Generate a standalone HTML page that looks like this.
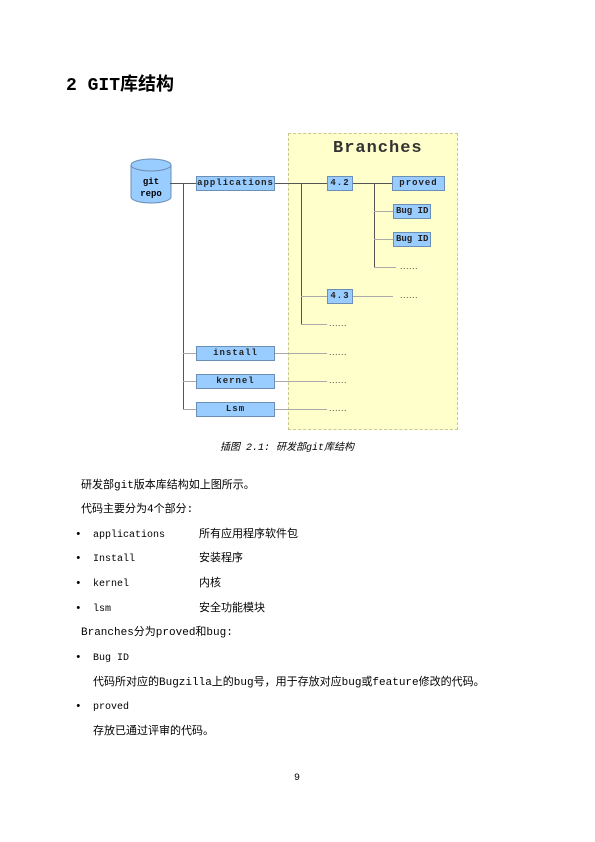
<!DOCTYPE html>
<html><head><meta charset="utf-8"><style>
body{margin:0;width:595px;height:842px;background:#fff;position:relative;overflow:hidden;font-family:"Liberation Mono","Noto Sans CJK SC",monospace;color:#000}
.t{position:absolute;white-space:nowrap;font-size:11px;line-height:13px}
.b{position:absolute;background:#99ccff;border:1px solid #6b8fb5;box-sizing:border-box;font-size:9px;line-height:12px;text-align:center;font-family:"Liberation Mono",monospace;letter-spacing:1px;color:#222;font-weight:bold}
.l{position:absolute;background:#555}
.g{position:absolute;background:#aaa}
.d{position:absolute;font-family:"Liberation Sans",sans-serif;font-size:9px;line-height:10px;color:#444;letter-spacing:0.5px}
</style></head><body>
<div class="t" style="left:66px;top:75px;font-size:18px;line-height:22px;font-weight:bold">2 GIT库结构</div>

<div style="position:absolute;left:288px;top:133px;width:170px;height:297px;background:#ffffcc;border:1px dashed #c8c890;box-sizing:border-box"></div>
<div class="t" style="left:333px;top:139px;font-size:17px;line-height:20px;letter-spacing:1px;color:#333;font-weight:bold">Branches</div>

<svg style="position:absolute;left:130px;top:158px" width="42" height="46"><path d="M1 7 V39 A20 6 0 0 0 41 39 V7" fill="#99ccff" stroke="#6b8fb5"/><ellipse cx="21" cy="7" rx="20" ry="6" fill="#99ccff" stroke="#6b8fb5"/></svg>
<div class="t" style="left:131px;top:176px;width:40px;text-align:center;font-size:9px;line-height:12px;font-weight:bold">git<br>repo</div>

<div class="l" style="left:170px;top:183px;width:26px;height:1px"></div>
<div class="l" style="left:183px;top:183px;width:1px;height:226px"></div>
<div class="g" style="left:183px;top:353px;width:13px;height:1px"></div>
<div class="g" style="left:183px;top:381px;width:13px;height:1px"></div>
<div class="g" style="left:183px;top:409px;width:13px;height:1px"></div>
<div class="l" style="left:275px;top:183px;width:52px;height:1px"></div>
<div class="l" style="left:301px;top:183px;width:1px;height:141px"></div>
<div class="g" style="left:301px;top:296px;width:26px;height:1px"></div>
<div class="g" style="left:301px;top:324px;width:26px;height:1px"></div>
<div class="l" style="left:353px;top:183px;width:39px;height:1px"></div>
<div class="l" style="left:374px;top:183px;width:1px;height:84px"></div>
<div class="g" style="left:374px;top:211px;width:19px;height:1px"></div>
<div class="g" style="left:374px;top:239px;width:19px;height:1px"></div>
<div class="g" style="left:374px;top:267px;width:22px;height:1px"></div>
<div class="g" style="left:353px;top:296px;width:40px;height:1px"></div>
<div class="g" style="left:275px;top:353px;width:52px;height:1px"></div>
<div class="g" style="left:275px;top:381px;width:52px;height:1px"></div>
<div class="g" style="left:275px;top:409px;width:52px;height:1px"></div>

<div class="b" style="left:196px;top:176px;width:79px;height:15px">applications</div>
<div class="b" style="left:327px;top:176px;width:26px;height:15px">4.2</div>
<div class="b" style="left:392px;top:176px;width:53px;height:15px">proved</div>
<div class="b" style="left:393px;top:204px;width:38px;height:15px;text-align:left;padding-left:2px;letter-spacing:0">Bug ID</div>
<div class="b" style="left:393px;top:232px;width:38px;height:15px;text-align:left;padding-left:2px;letter-spacing:0">Bug ID</div>
<div class="b" style="left:327px;top:289px;width:26px;height:15px">4.3</div>
<div class="b" style="left:196px;top:346px;width:79px;height:15px">install</div>
<div class="b" style="left:196px;top:374px;width:79px;height:15px">kernel</div>
<div class="b" style="left:196px;top:402px;width:79px;height:15px">Lsm</div>

<div class="d" style="left:400px;top:261px">......</div>
<div class="d" style="left:400px;top:290px">......</div>
<div class="d" style="left:329px;top:318px">......</div>
<div class="d" style="left:329px;top:347px">......</div>
<div class="d" style="left:329px;top:375px">......</div>
<div class="d" style="left:329px;top:403px">......</div>

<div class="t" style="left:220px;top:442px;font-style:italic;font-size:10px">插图 2.1: 研发部git库结构</div>

<div class="t" style="left:81px;top:480px">研发部git版本库结构如上图所示。</div>
<div class="t" style="left:81px;top:504px">代码主要分为4个部分:</div>
<div class="t" style="left:75px;top:529px">•</div><div class="t" style="left:93px;top:529px;font-size:10px">applications</div><div class="t" style="left:199px;top:529px">所有应用程序软件包</div>
<div class="t" style="left:75px;top:553px">•</div><div class="t" style="left:93px;top:553px;font-size:10px">Install</div><div class="t" style="left:199px;top:553px">安装程序</div>
<div class="t" style="left:75px;top:578px">•</div><div class="t" style="left:93px;top:578px;font-size:10px">kernel</div><div class="t" style="left:199px;top:578px">内核</div>
<div class="t" style="left:75px;top:603px">•</div><div class="t" style="left:93px;top:603px;font-size:10px">lsm</div><div class="t" style="left:199px;top:603px">安全功能模块</div>
<div class="t" style="left:81px;top:627px">Branches分为proved和bug:</div>
<div class="t" style="left:75px;top:652px">•</div><div class="t" style="left:93px;top:652px;font-size:10px">Bug ID</div>
<div class="t" style="left:93px;top:677px">代码所对应的Bugzilla上的bug号，用于存放对应bug或feature修改的代码。</div>
<div class="t" style="left:75px;top:701px">•</div><div class="t" style="left:93px;top:701px;font-size:10px">proved</div>
<div class="t" style="left:93px;top:726px">存放已通过评审的代码。</div>
<div class="t" style="left:294px;top:772px;font-size:10px">9</div>
</body></html>
